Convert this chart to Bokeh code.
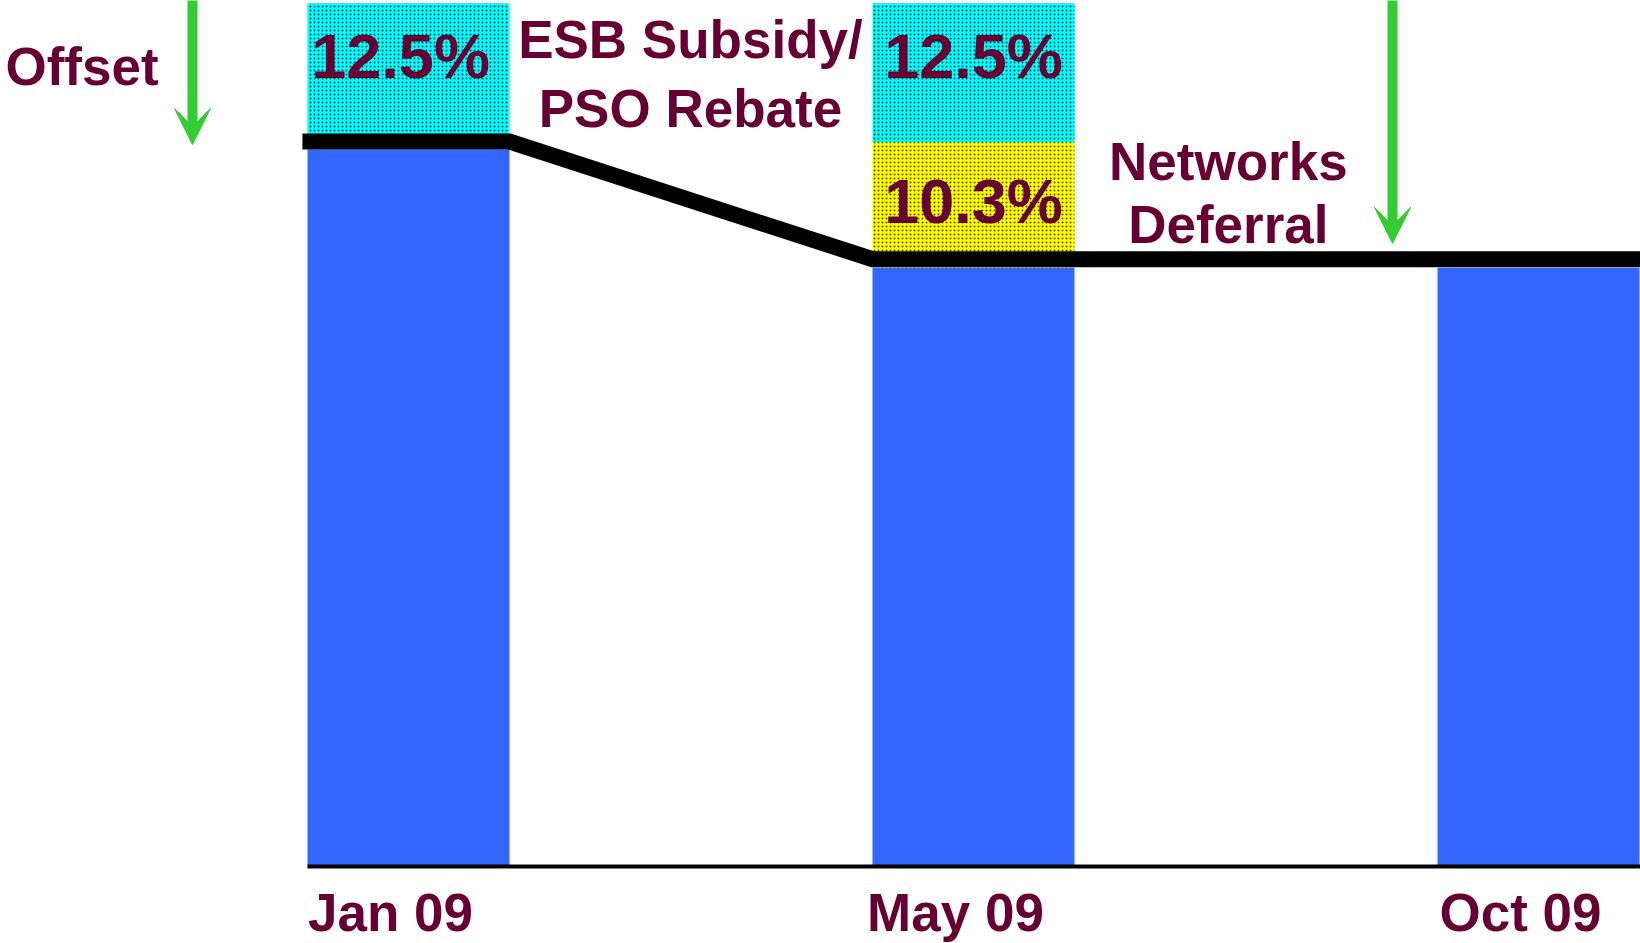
from bokeh.plotting import figure
from bokeh.models import Range1d, LinearAxis, FixedTicker, Arrow, VeeHead
from bokeh.core.properties import value
from bokeh.embed import file_html
from bokeh.resources import INLINE

# ---------------- data ----------------
months = ["Jan 09", "May 09", "Oct 09"]
x_pos = [0, 1, 2]
tariff = [100.0, 83.5, 83.5]          # blue bars (index, Jan 09 = 100)
deferral = [0.0, 17.5, 0.0]           # Networks Deferral (yellow)
subsidy = [20.4, 19.4, 0.0]           # ESB Subsidy / PSO Rebate (cyan)
price_line = [101.1, 84.7]            # price level before / after
subsidy_label = ["12.5%", "12.5%"]
deferral_label = ["10.3%"]

TEXT = "#660033"
BLUE = "#3366FF"
GREEN = "#33CC33"
FONT = value("Liberation Sans")

bw = 0.3575
x_start, x_end = -0.7221, 2.1805
y_start, y_end = -10.74, 120.78
dy = 3.07   # baseline correction for text glyphs

p = figure(width=1640, height=943, output_backend="svg", toolbar_location=None,
           x_range=Range1d(x_start, x_end), y_range=Range1d(y_start, y_end),
           min_border=0, x_axis_location=None, y_axis_location=None)
p.outline_line_color = None
p.xgrid.visible = False
p.ygrid.visible = False

# bars
def_top = [t + d for t, d in zip(tariff, deferral)]
sub_top = [b + s for b, s in zip(def_top, subsidy)]

p.vbar(x=x_pos, width=bw, bottom=0, top=tariff, fill_color=BLUE, line_color=None)
p.vbar(x=x_pos, width=bw, bottom=tariff, top=def_top, fill_color="#FFFF00",
       line_color=None, hatch_pattern="dot", hatch_color="#000000",
       hatch_scale=4, hatch_weight=1.6, hatch_alpha=0.7)
p.vbar(x=x_pos, width=bw, bottom=def_top, top=sub_top, fill_color="#00FFFF",
       line_color=None, hatch_pattern="dot", hatch_color="#000000",
       hatch_scale=4, hatch_weight=1.6, hatch_alpha=0.7)

# price line
lx = [x_pos[0] - bw / 2 - 0.009, x_pos[0] + bw / 2, x_pos[1] - bw / 2, x_pos[2] + bw / 2 + 0.2]
ly = [price_line[0], price_line[0], price_line[1], price_line[1]]
p.line(lx, ly, line_color="black", line_width=16, line_join="miter", line_cap="butt")

# percentage labels
p.text(x=[x_pos[0] - 0.014, x_pos[1]], y=[109.9 + dy, 109.9 + dy], text=subsidy_label,
       text_font=FONT, text_font_style="bold", text_font_size="63px",
       text_color=TEXT, text_align="center", text_baseline="alphabetic")
p.text(x=[x_pos[1]], y=[89.8 + dy], text=deferral_label,
       text_font=FONT, text_font_style="bold", text_font_size="63px",
       text_color=TEXT, text_align="center", text_baseline="alphabetic")

# annotations
p.text(x=[0.499, 0.499], y=[112.3 + dy, 102.6 + dy], text=["ESB Subsidy/", "PSO Rebate"],
       text_font=FONT, text_font_style="bold", text_font_size="53px",
       text_color=TEXT, text_align="center", text_baseline="alphabetic")
p.text(x=[1.451, 1.451], y=[95.3 + dy, 86.5 + dy], text=["Networks", "Deferral"],
       text_font=FONT, text_font_style="bold", text_font_size="53px",
       text_color=TEXT, text_align="center", text_baseline="alphabetic")
p.text(x=[-0.7133], y=[108.5 + dy], text=["Offset"],
       text_font=FONT, text_font_style="bold", text_font_size="53px",
       text_color=TEXT, text_align="left", text_baseline="alphabetic")

# arrows
for ax, ytip in [(-0.3823, 100.7), (1.7416, 86.9)]:
    p.add_layout(Arrow(end=VeeHead(size=36, fill_color=GREEN, line_color=GREEN),
                       x_start=ax, y_start=122.0, x_end=ax, y_end=ytip,
                       line_color=GREEN, line_width=10))

# x axis drawn at y = 0 inside the frame (labels slightly left of bar centre)
shift = 18 / 565
p.extra_x_ranges = {"lab": Range1d(x_start + shift, x_end + shift)}
xaxis = LinearAxis(x_range_name="lab", ticker=FixedTicker(ticks=x_pos),
                   fixed_location=0,
                   major_label_overrides={i: m for i, m in zip(x_pos, months)},
                   bounds=(x_pos[0] - bw / 2 + shift, x_end + shift + 0.2))
xaxis.axis_line_color = "black"
xaxis.axis_line_width = 4
xaxis.major_tick_line_color = None
xaxis.minor_tick_line_color = None
xaxis.major_label_standoff = 11
xaxis.major_label_text_font = "Liberation Sans"
xaxis.major_label_text_font_style = "bold"
xaxis.major_label_text_font_size = "53px"
xaxis.major_label_text_color = TEXT
p.add_layout(xaxis, "below")

open("out.html", "w").write(file_html(p, INLINE))
